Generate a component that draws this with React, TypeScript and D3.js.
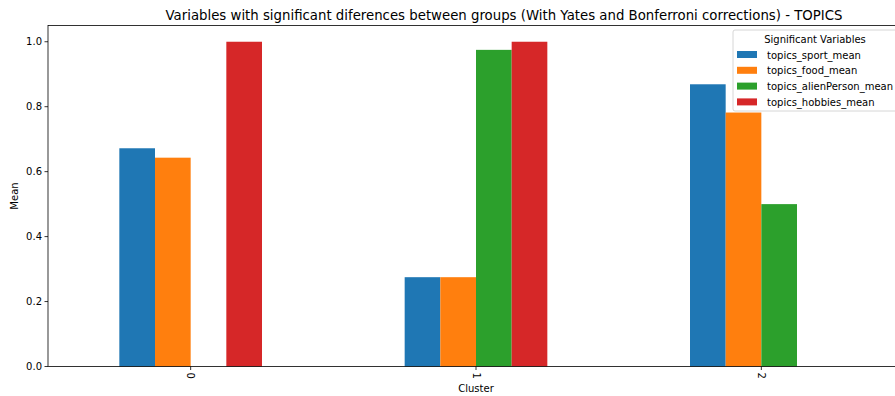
import React from "react";
import * as d3 from "d3";

const clusters = [0, 1, 2];
const seriesNames = ["topics_sport_mean", "topics_food_mean", "topics_alienPerson_mean", "topics_hobbies_mean"];
const sportMean = [0.672, 0.275, 0.869];
const foodMean = [0.643, 0.275, 0.782];
const alienPersonMean = [0, 0.975, 0.5];
const hobbiesMean = [1.0, 1.0, 0];
const colors = ["#1f77b4", "#ff7f0e", "#2ca02c", "#d62728"];
const yTicks = [0, 0.2, 0.4, 0.6, 0.8, 1.0];

const W = 895, H = 396;
const FONT = "DejaVu Sans, sans-serif";

export default function App() {
  const values = [sportMean, foodMean, alienPersonMean, hobbiesMean];
  const x = d3.scaleLinear().domain([-0.5, 2.5]).range([48, 904]);
  const y = d3.scaleLinear().domain([0, 1.05]).range([366.5, 25.5]);
  const bw = 0.125;
  const left = x(-0.5), right = x(2.5), top = y(1.05), bottom = y(0);
  return (
    <svg width={W} height={H} style={{ position: "absolute", left: 0, top: 0, background: "#fff" }} fontFamily={FONT}>
      <rect width={W} height={H} fill="#fff" />
      <text x={504} y={20} fontSize={13.3} textAnchor="middle" fill="#000">
        Variables with significant diferences between groups (With Yates and Bonferroni corrections) - TOPICS
      </text>
      {values.map((vals, si) =>
        clusters.map((c, ci) => {
          const x0 = x(c + (si - 2) * bw);
          const x1 = x(c + (si - 1) * bw);
          const v = vals[ci];
          return (
            <rect key={`${si}-${ci}`} x={x0} width={x1 - x0} y={y(v)} height={Math.max(0, y(0) - y(v))} fill={colors[si]} />
          );
        })
      )}
      <rect x={left} y={top} width={right - left} height={bottom - top} fill="none" stroke="#000" strokeWidth={0.8} />
      {yTicks.map((t) => (
        <g key={t}>
          <line x1={left - 3.5} x2={left} y1={y(t)} y2={y(t)} stroke="#000" strokeWidth={0.8} />
          <text x={left - 6} y={y(t)} dy="0.35em" fontSize={10} textAnchor="end" fill="#000">
            {t.toFixed(1)}
          </text>
        </g>
      ))}
      {clusters.map((c) => (
        <g key={c}>
          <line x1={x(c)} x2={x(c)} y1={bottom} y2={bottom + 3.5} stroke="#000" strokeWidth={0.8} />
          <text transform={`translate(${x(c)},${bottom + 6}) rotate(90)`} dy="0.35em" fontSize={10} textAnchor="start" fill="#000">
            {String(c)}
          </text>
        </g>
      ))}
      <text x={476} y={392} fontSize={10} textAnchor="middle" fill="#000">Cluster</text>
      <text transform={`translate(18,${(top + bottom) / 2}) rotate(-90)`} fontSize={10} textAnchor="middle" fill="#000">Mean</text>
      <g>
        <rect x={733} y={30} width={170} height={81} rx={2} fill="#fff" fillOpacity={0.8} stroke="#ccc" strokeWidth={0.8} />
        <text x={815} y={43} fontSize={10} textAnchor="middle" fill="#000">Significant Variables</text>
        {seriesNames.map((n, i) => (
          <g key={n}>
            <rect x={737} y={51 + i * 15.8} width={20} height={7} fill={colors[i]} />
            <text x={767} y={55 + i * 15.8} dy="0.35em" fontSize={10} fill="#000">{n}</text>
          </g>
        ))}
      </g>
    </svg>
  );
}
